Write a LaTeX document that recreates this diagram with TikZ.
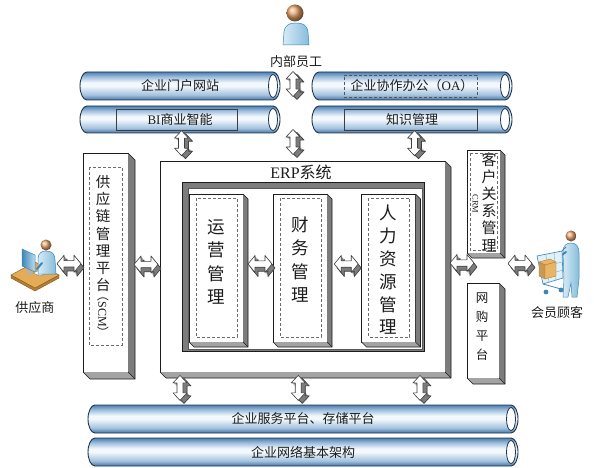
\documentclass[tikz,border=0pt]{standalone}
\usepackage{fontspec}
\setmainfont{Liberation Serif}
\newfontfamily\cjk{Noto Sans CJK SC}
\newfontfamily\latin{Liberation Serif}
\usetikzlibrary{calc}

\definecolor{pipetop}{HTML}{4E7FB0}
\definecolor{pipemid}{HTML}{A3C1DE}
\definecolor{pipehi}{HTML}{F3F8FC}
\definecolor{pipebot}{HTML}{44729F}
\definecolor{pipeline}{HTML}{1F3550}
\definecolor{sidedark}{HTML}{7C7C7C}
\definecolor{sidelight}{HTML}{A3A3A3}
\definecolor{ink}{HTML}{1C1C1C}
\definecolor{skin}{HTML}{E9A46A}
\definecolor{shirt}{HTML}{8CC6E6}
\definecolor{shirtdark}{HTML}{3E86B8}
\definecolor{tile}{HTML}{E3AC55}
\definecolor{tileside}{HTML}{B57E32}
\definecolor{crate}{HTML}{E8B466}

\pgfdeclareverticalshading{pipeshade}{100bp}{color(0bp)=(pipebot); color(25bp)=(pipebot); color(34bp)=(pipemid); color(50bp)=(pipehi); color(56bp)=(pipehi); color(66bp)=(pipemid); color(75bp)=(pipetop); color(100bp)=(pipetop)}

% horizontal pipe: name, x0, y0, x1, y1, label
\newcommand\pipe[6]{%
  \path[pipebody] ({#2+7},#3) -- ({#4-7},#3)
     arc[start angle=-90, end angle=90, x radius=7, y radius={(#5-#3)/2}]
     -- ({#2+7},#5)
     arc[start angle=90, end angle=270, x radius=7, y radius={(#5-#3)/2}] -- cycle;
  \draw[pipeend] ({#4-7},{(#3+#5)/2}) ellipse[x radius=4.5, y radius={(#5-#3)/2-2.5}];
  \node[txt, minimum width={(#4-#2)*1pt}, minimum height={(#5-#3)*1pt}] (#1)
     at ({(#2+#4)/2},{(#3+#5)/2}) {#6};
}

% right and bottom faces of a raised box
\newcommand\extrudebox[2]{%
  \fill[sidedark] (#1.north east) -- ++(#2,#2) -- ($(#1.south east)+(#2,#2)$) -- (#1.south east) -- cycle;
  \fill[sidelight] (#1.south west) -- ++(#2,#2) -- ($(#1.south east)+(#2,#2)$) -- (#1.south east) -- cycle;
  \draw[ink, line width=0.6pt, line join=round] (#1.north east) -- ++(#2,#2)
     -- ($(#1.south east)+(#2,#2)$) -- ($(#1.south west)+(#2,#2)$) -- (#1.south west);
  \draw[ink, line width=0.4pt] (#1.south east) -- ++(#2,#2);
}

\tikzset{
  txt/.style={font=\cjk\fontsize{13}{15}\selectfont, text=ink, inner sep=0pt},
  vtxt/.style={align=center, text=ink, inner sep=0pt},
  pipebody/.style={shading=pipeshade, draw=pipeline, line width=0.9pt},
  pipeend/.style={draw=pipeline, line width=0.8pt, fill=white},
  frontbox/.style={draw=ink, line width=0.6pt, fill=white, outer sep=0pt, inner sep=0pt},
  insetdash/.style={draw=gray!85!black, line width=0.6pt, dash pattern=on 3pt off 2pt},
  arrowline/.style={draw=ink!85, line width=0.6pt, line join=round},
  hshape/.style={insert path={(-12,0) -- (-5,-8.5) -- (-5,-3.2) -- (5,-3.2) -- (5,-8.5)
     -- (12,0) -- (5,8.5) -- (5,3.2) -- (-5,3.2) -- (-5,8.5) -- cycle}},
  vshape/.style={insert path={(0,-12.5) -- (-7,-5) -- (-3,-5) -- (-3,5) -- (-7,5)
     -- (0,12.5) -- (7,5) -- (3,5) -- (3,-5) -- (7,-5) -- cycle}},
  harrow/.pic={
    \foreach \s in {1,2,3,4} {\fill[sidedark, shift={(0.75*\s,\s)}, hshape];}
    \draw[arrowline, fill=sidedark, shift={(3,4)}, hshape];
    \draw[arrowline, fill=white, hshape];
  },
  varrow/.pic={
    \foreach \s in {1,2,3,4} {\fill[sidedark, shift={(\s,0.75*\s)}, vshape];}
    \draw[arrowline, fill=sidedark, shift={(4,3)}, vshape];
    \draw[arrowline, fill=white, vshape];
  },
  icon/.style={inner sep=0pt, outer sep=0pt, minimum width=46pt, minimum height=46pt},
  person/.style={draw=shirtdark, line width=0.5pt, left color=shirt!35!white, right color=shirt!95!black},
}

\begin{document}
\begin{tikzpicture}[x=1pt, y=-1pt]
\useasboundingbox (0,0) rectangle (594,468);
\fill[white] (0,0) rectangle (594,468);

% ---------- pipes ----------
\pipe{pA}{80}{72}{280}{100}{企业门户网站}
\pipe{pB}{80}{106}{280}{133}{{\latin BI}商业智能}
\pipe{pC}{312}{72}{512}{100}{企业协作办公（{\latin OA}）}
\pipe{pD}{312}{106}{512}{133}{知识管理}
\pipe{pE}{88}{405}{518}{433}{企业服务平台、存储平台}
\pipe{pF}{88}{438}{518}{466}{企业网络基本架构}

\node[draw=ink!85, line width=0.7pt, minimum width=121pt, minimum height=21pt, inner sep=0pt] (biframe) at (176.5,119.5) {};
\node[insetdash, draw=ink!75, minimum width=133pt, minimum height=22pt, inner sep=0pt] (oaframe) at (410.5,86) {};
\node[draw=ink!85, line width=0.7pt, minimum width=133pt, minimum height=21pt, inner sep=0pt] (kmframe) at (410.5,119.5) {};

% ---------- supply chain platform ----------
\node[frontbox, minimum width=45pt, minimum height=219pt] (scm) at (105.5,262.5) {};
\extrudebox{scm}{7}
\draw[insetdash] ($(scm.north west)+(6,14)$) rectangle ($(scm.south east)+(-6,-27)$);
\node[vtxt, font=\cjk\fontsize{14.5}{17.2}\selectfont] (scmtext) at (103,233.5) {供\\应\\链\\管\\理\\平\\台};
\node[txt, font=\cjk\fontsize{12}{14}\selectfont, rotate=-90] (scmtag) at (103,314) {（{\latin SCM}）};

% ---------- ERP system ----------
\node[frontbox, minimum width=285pt, minimum height=211pt] (erp) at (302.5,266.5) {};
\extrudebox{erp}{6}
\node[txt, font=\cjk\fontsize{16}{18}\selectfont] (erptitle) at (301,172.5) {{\latin ERP}系统};
\node[draw=ink, line width=0.6pt, fill=sidedark, minimum width=242pt, minimum height=169pt, inner sep=0pt, outer sep=0pt] (core) at (303,266.5) {};
\draw[fill=white, draw=gray!70!black, line width=0.4pt] ($(core.north west)+(6,6)$) rectangle ($(core.south east)+(-2,-2)$);

\node[frontbox, minimum width=54pt, minimum height=148pt] (m1) at (216,268) {};
\node[frontbox, minimum width=54pt, minimum height=148pt] (m2) at (300,268) {};
\node[frontbox, minimum width=54pt, minimum height=148pt] (m3) at (388.5,268) {};
\foreach \m in {m1,m2,m3} {
  \extrudebox{\m}{5}
  \draw[insetdash] ($(\m.north west)+(7,4)$) rectangle ($(\m.south east)+(-6,-5)$);
}
\node[vtxt, font=\cjk\fontsize{17.5}{23.3}\selectfont] (m1text) at (216,262) {运\\营\\管\\理};
\node[vtxt, font=\cjk\fontsize{17.5}{23.3}\selectfont] (m2text) at (300,259.5) {财\\务\\管\\理};
\node[vtxt, font=\cjk\fontsize{17.5}{22.8}\selectfont] (m3text) at (388.5,270) {人\\力\\资\\源\\管\\理};

% ---------- customer side platforms ----------
\node[frontbox, minimum width=33pt, minimum height=103pt] (crm) at (483.5,201.5) {};
\extrudebox{crm}{5}
\draw[insetdash] ($(crm.north west)+(3,3)$) rectangle ($(crm.south east)+(-3,-3)$);
\node[vtxt, font=\cjk\fontsize{15}{17.2}\selectfont] (crmtext) at (489,202) {客\\户\\关\\系\\管\\理};
\node[inner sep=0pt, text=ink, font=\latin\fontsize{8.5}{10}\selectfont, rotate=-90] (crmtag) at (475.5,204) {CRM};

\node[frontbox, minimum width=32pt, minimum height=95pt] (shop) at (483,330.5) {};
\extrudebox{shop}{6}
\node[vtxt, font=\cjk\fontsize{12.5}{19}\selectfont] (shoptext) at (482,327) {网\\购\\平\\台};

% ---------- internal staff ----------
\node[inner sep=0pt, minimum width=28pt, minimum height=42pt] (staff) at (296,24) {};
\path[person] (283,45) -- (284,32) .. controls (285,25) and (289,23) .. (296,23)
   .. controls (303,23) and (307,25) .. (308,32) -- (309,45) -- cycle;
\shade[ball color=skin] (295,13) circle[radius=8.5];
\node[txt] (stafflabel) at (296,62) {内部员工};

% ---------- supplier ----------
\node[icon] (sup) at (35,265) {};
\fill[tileside, draw=tileside!70!black, line width=0.4pt] (11,275) -- (11,278) -- (35,291) -- (59,278) -- (59,275) -- (35,288) -- cycle;
\fill[tile, draw=tileside!70!black, line width=0.4pt] (11,275) -- (35,262) -- (59,275) -- (35,288) -- cycle;
\fill[gray!60] (27,269) -- (31,271) -- (31,276) -- (27,274) -- cycle;
\path[draw=shirtdark, line width=0.5pt, left color=shirtdark, right color=shirt!60!white] (22,249) -- (35,255) -- (35,272) -- (22,266) -- cycle;
\path[draw=gray, fill=white, line width=0.4pt] (33,273) -- (40,270) -- (47,273) -- (40,276) -- cycle;
\path[person] (38,274) -- (38,259) .. controls (38,253) and (42,251) .. (46,251)
   .. controls (52,251) and (55,254) .. (55,260) -- (56,274) -- cycle;
\draw[shirtdark, line width=2pt, line cap=round] (42,263) -- (37,269);
\shade[ball color=skin] (46,245) circle[radius=5.5];
\node[txt] (suplabel) at (35,308) {供应商};

% ---------- member customer ----------
\node[icon] (cust) at (560,265) {};
\path[person] (563,252) .. controls (563,245) and (567,243) .. (571,243)
   .. controls (576,243) and (579,246) .. (579,253) -- (579,279) -- (577,297) -- (572,297)
   -- (571,283) -- (568,297) -- (563,297) -- (564,279) -- cycle;
\shade[ball color=skin] (571,236) circle[radius=5.5];
\draw[shirtdark, line width=2pt, line cap=round] (566,252) -- (559,257);
\path[fill=shirt!25, draw=shirtdark, line width=0.6pt] (537,256) -- (562,251) -- (563,278) -- (543,284) -- cycle;
\draw[shirtdark!70, line width=0.4pt] (541,267) -- (562,262) (542,276) -- (563,270) (546,255) -- (549,283) (554,253) -- (556,281);
\draw[shirtdark, line width=0.8pt] (562,251) -- (566,247) (543,284) -- (561,289);
\fill[crate, draw=tileside, line width=0.4pt] (539,262) -- (550,259) -- (556,262) -- (545,265) -- cycle;
\fill[crate!85!black, draw=tileside, line width=0.4pt] (539,262) -- (545,265) -- (545,279) -- (539,276) -- cycle;
\fill[crate, draw=tileside, line width=0.4pt] (545,265) -- (556,262) -- (556,276) -- (545,279) -- cycle;
\fill[shirtdark] (546,292) circle[radius=2.4] (561,290) circle[radius=2.4];
\node[txt] (custlabel) at (557,313) {会员顾客};

% ---------- links ----------
\coordinate (staffgap) at ($(pA.east)!0.5!(pC.west)$);
\pic at ($(staffgap)+(-3,-2)$) {varrow};
\pic at ($(staffgap |- erp.north)+(-3,-19)$) {varrow};
\pic at ($(pB.south -| biframe.center)+(5,10)$) {varrow};
\pic at ($(pD.south -| kmframe.center)+(4,10)$) {varrow};

\coordinate (lowgap) at ($(erp.south)!0.5!(pE.north)$);
\pic at ($(lowgap -| m1.center)+(-36,-0.5)$) {varrow};
\pic at ($(lowgap)+(-4.5,-0.5)$) {varrow};
\pic at ($(lowgap -| m3.center)+(31.5,-0.5)$) {varrow};

\pic at ($(sup.east)!0.5!(scm.west)+(-1.5,0)$) {harrow};
\pic at ($(scm.east)!0.5!(erp.west)+(2,0)$) {harrow};
\pic at ($(m1.east)!0.5!(m2.west)+(2,-4)$) {harrow};
\pic at ($(m2.east)!0.5!(m3.west)+(2,-4)$) {harrow};
\pic at ($(erp.east)!0.5!(erp.east -| crm.west)+(6,-3.5)$) {harrow};
\pic at ($(crm.east)!0.5!(crm.east -| cust.west)+(1.5,62)$) {harrow};
\end{tikzpicture}
\end{document}
